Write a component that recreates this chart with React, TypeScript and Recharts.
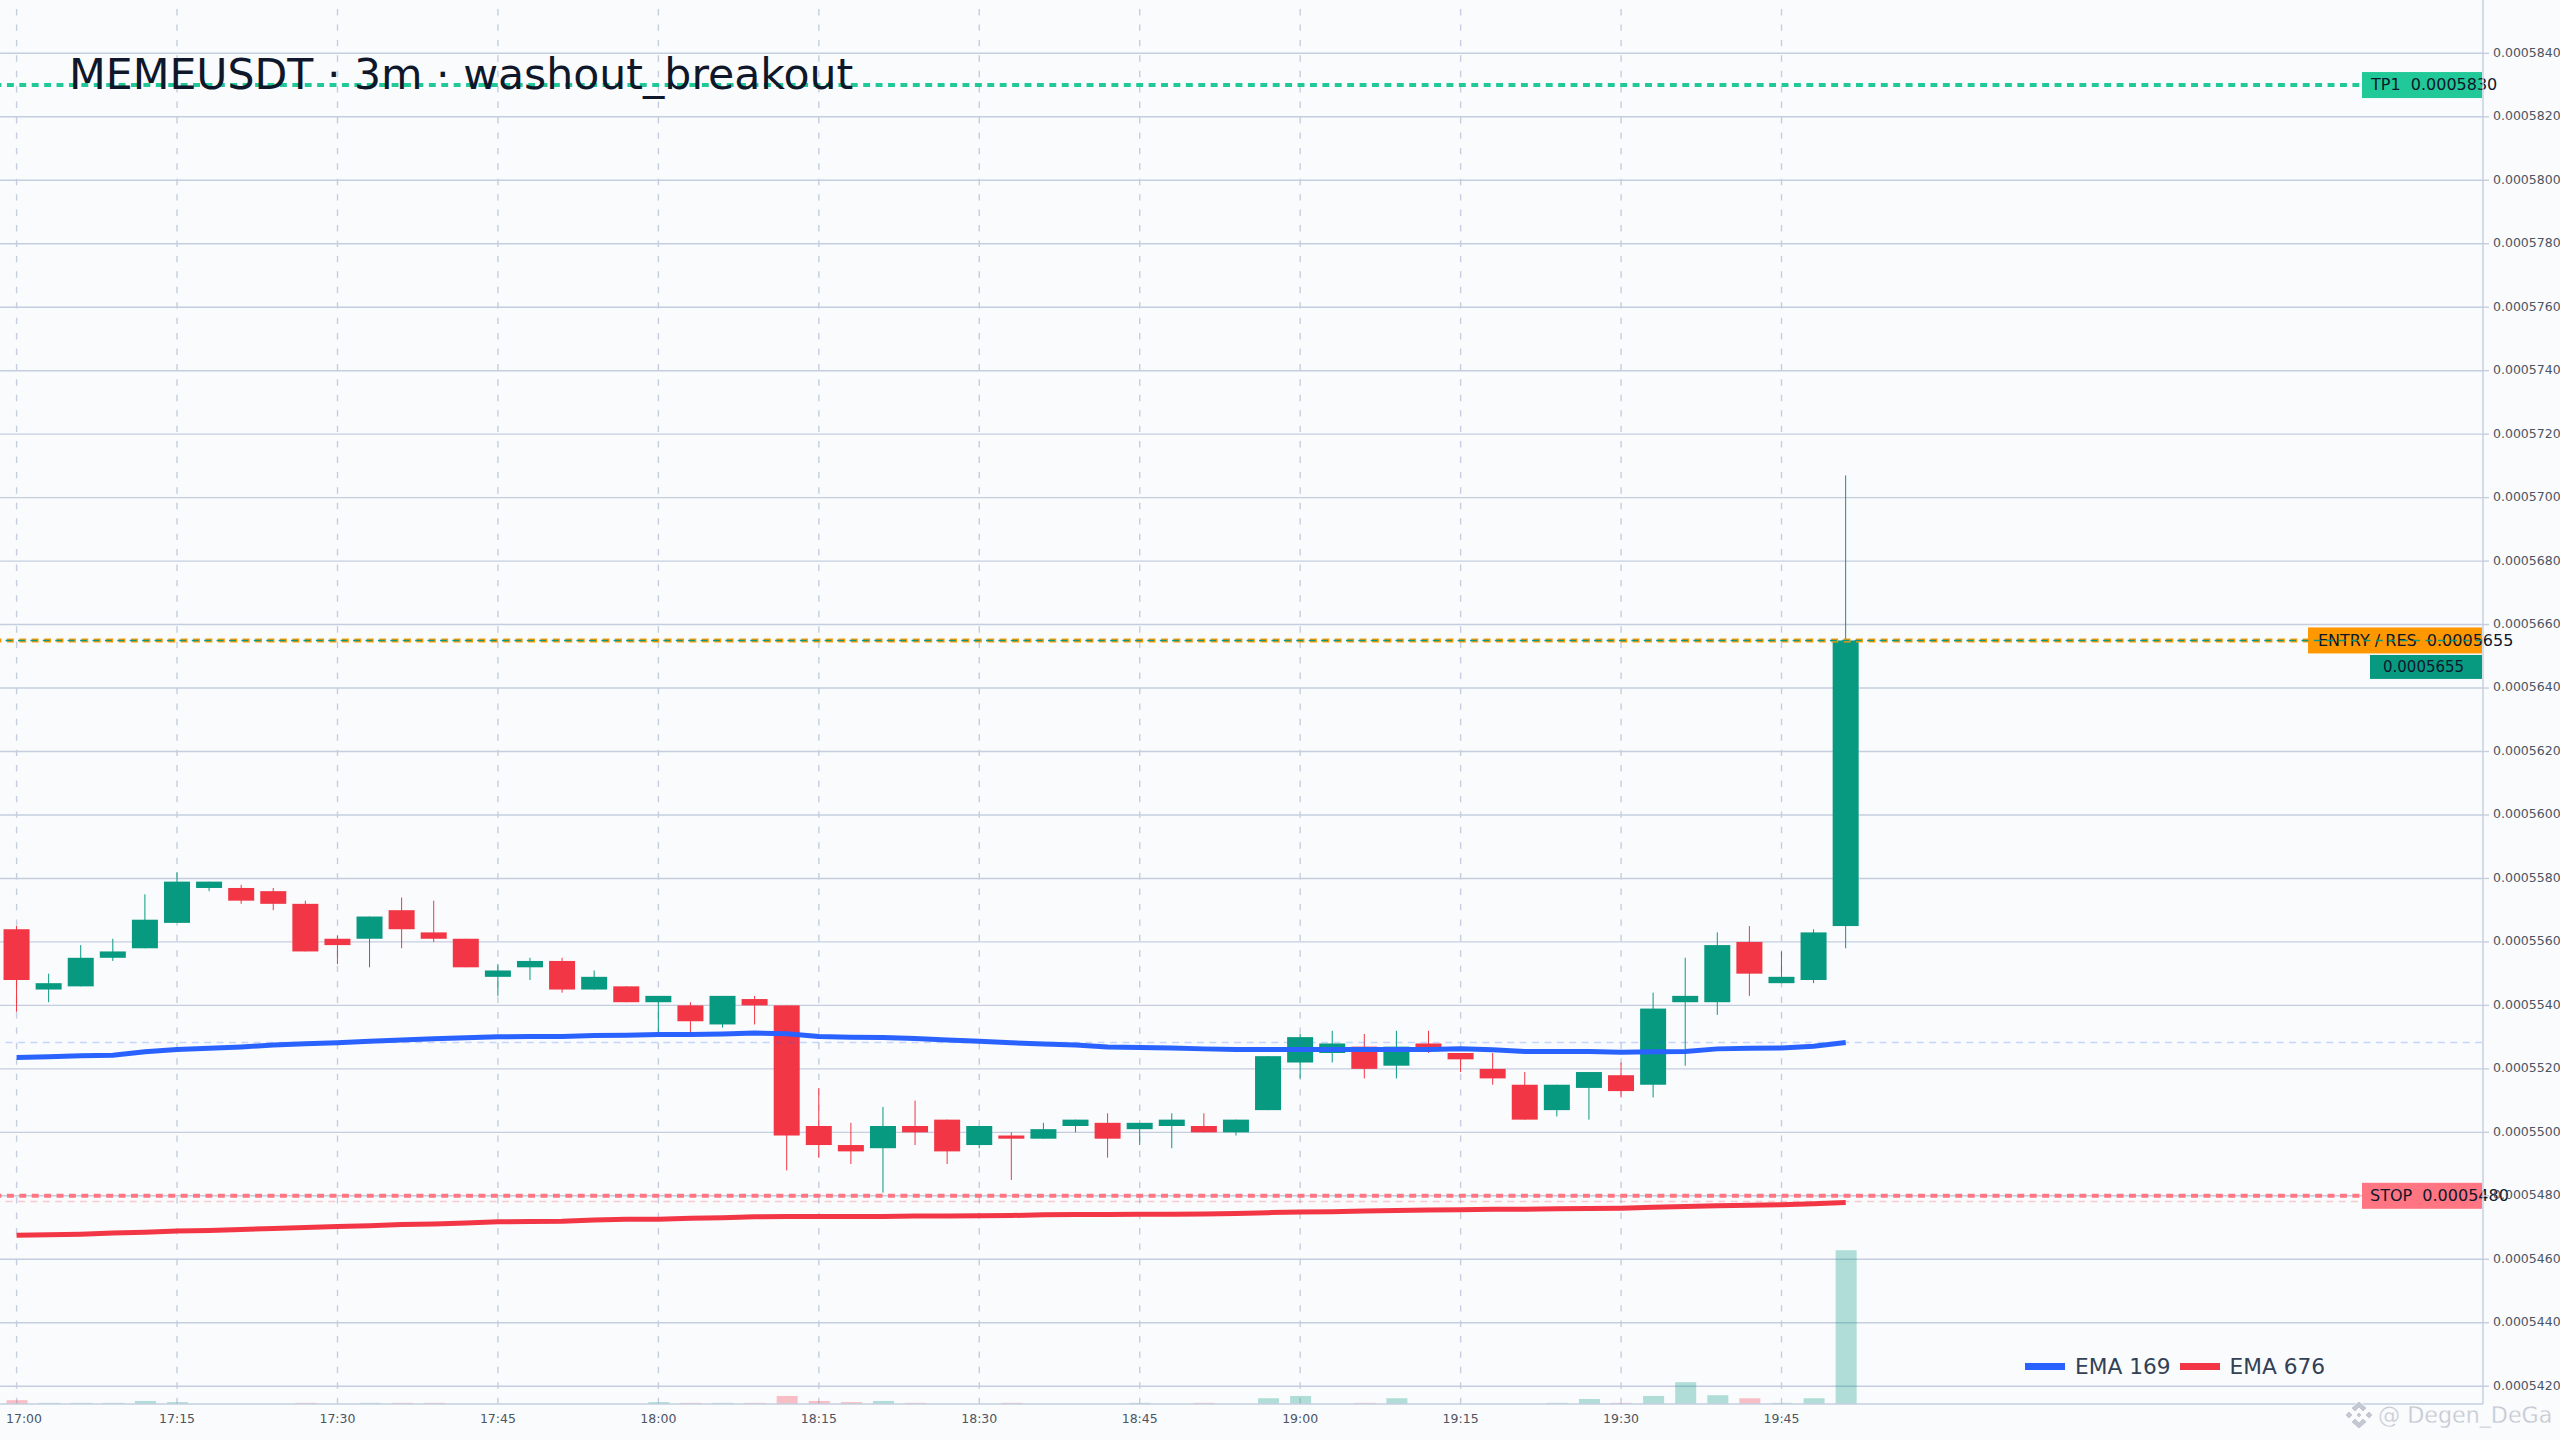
import { Bar, CartesianGrid, ComposedChart, Legend, Line, ReferenceLine, XAxis, YAxis } from "recharts"

const FONT = "'DejaVu Sans', sans-serif"
const UP = "#089981"
const DOWN = "#f23645"
const GRID = "#c4cedf"
const LEVEL_DASH = "6.9 5.51"

// prices are in units of 0.0000001
const opens = [5564, 5545, 5546, 5555, 5558, 5566, 5577, 5577, 5576, 5572, 5561, 5561, 5570, 5563, 5561, 5549, 5552, 5554, 5545, 5546, 5541, 5540, 5534, 5542, 5540, 5502, 5496, 5495, 5502, 5504, 5496, 5499, 5498, 5502, 5503, 5501, 5502, 5502, 5500, 5507, 5522, 5525, 5527, 5521, 5528, 5525, 5520, 5515, 5507, 5514, 5518, 5515, 5541, 5541, 5560, 5547, 5548, 5565]
const highs = [5565, 5550, 5559, 5561, 5575, 5582, 5579, 5578, 5577, 5573, 5562, 5568, 5574, 5573, 5561, 5553, 5555, 5555, 5551, 5546, 5543, 5541, 5543, 5543, 5540, 5514, 5503, 5508, 5510, 5504, 5502, 5500, 5503, 5504, 5506, 5503, 5506, 5506, 5504, 5524, 5531, 5532, 5531, 5532, 5532, 5525, 5525, 5519, 5515, 5519, 5522, 5544, 5555, 5563, 5565, 5557, 5564, 5707]
const lows = [5538, 5541, 5546, 5554, 5558, 5566, 5576, 5572, 5570, 5557, 5553, 5552, 5558, 5560, 5552, 5543, 5548, 5544, 5545, 5541, 5531, 5531, 5533, 5534, 5488, 5492, 5490, 5481, 5496, 5490, 5495, 5485, 5498, 5500, 5492, 5496, 5495, 5500, 5499, 5507, 5517, 5522, 5517, 5517, 5525, 5519, 5515, 5504, 5505, 5504, 5511, 5511, 5521, 5537, 5543, 5547, 5547, 5558]
const closes = [5548, 5547, 5555, 5557, 5567, 5579, 5579, 5573, 5572, 5557, 5559, 5568, 5564, 5561, 5552, 5551, 5554, 5545, 5549, 5541, 5543, 5535, 5543, 5540, 5499, 5496, 5494, 5502, 5500, 5494, 5502, 5498, 5501, 5504, 5498, 5503, 5504, 5500, 5504, 5524, 5530, 5528, 5520, 5527, 5526, 5523, 5517, 5504, 5515, 5519, 5513, 5539, 5543, 5559, 5550, 5549, 5563, 5655]
const volumes = [10, 3, 3, 3, 8, 5, 0, 0, 0, 3, 0, 3, 3, 3, 0, 0, 0, 0, 0, 0, 5, 3, 3, 3, 21, 8, 5, 8, 3, 0, 0, 3, 0, 0, 0, 3, 0, 3, 0, 15, 21, 0, 3, 15, 0, 0, 0, 0, 3, 13, 3, 21, 57, 23, 15, 3, 15, 402]
const ema169 = [5523.6, 5523.8, 5524.1, 5524.3, 5525.4, 5526.1, 5526.5, 5526.9, 5527.5, 5527.9, 5528.2, 5528.7, 5529.1, 5529.5, 5529.8, 5530.1, 5530.2, 5530.2, 5530.5, 5530.6, 5530.8, 5530.8, 5531, 5531.3, 5531.1, 5530.2, 5530, 5529.9, 5529.6, 5529.1, 5528.7, 5528.2, 5527.8, 5527.5, 5526.9, 5526.7, 5526.6, 5526.3, 5526.1, 5526.1, 5526.1, 5526.1, 5526.1, 5526.1, 5526.1, 5526.3, 5526, 5525.5, 5525.5, 5525.5, 5525.2, 5525.4, 5525.5, 5526.3, 5526.5, 5526.6, 5527.1, 5528.3]
const ema676 = [5467.6, 5467.7, 5467.9, 5468.3, 5468.5, 5468.9, 5469.1, 5469.4, 5469.7, 5470, 5470.3, 5470.6, 5470.95, 5471.1, 5471.4, 5471.8, 5471.9, 5472, 5472.4, 5472.6, 5472.6, 5472.9, 5473.1, 5473.4, 5473.5, 5473.5, 5473.5, 5473.5, 5473.6, 5473.6, 5473.7, 5473.8, 5474, 5474.1, 5474.1, 5474.2, 5474.2, 5474.3, 5474.4, 5474.7, 5474.9, 5475, 5475.2, 5475.4, 5475.5, 5475.6, 5475.8, 5475.8, 5475.9, 5476, 5476.1, 5476.4, 5476.6, 5476.9, 5477, 5477.2, 5477.5, 5477.9]

const timeTicks = [0, 5, 10, 15, 20, 25, 30, 35, 40, 45, 50, 55]
const timeLabels = ["17:00", "17:15", "17:30", "17:45", "18:00", "18:15", "18:30", "18:45", "19:00", "19:15", "19:30", "19:45"]
const priceTicks = [5420, 5440, 5460, 5480, 5500, 5520, 5540, 5560, 5580, 5600, 5620, 5640, 5660, 5680, 5700, 5720, 5740, 5760, 5780, 5800, 5820, 5840]

const TP1 = 5830
const ENTRY = 5655
const STOP = 5480
const LAST = 5655

const rows = opens.map((open, i) => ({
  i,
  open,
  high: highs[i],
  low: lows[i],
  close: closes[i],
  volume: volumes[i],
  ema169: ema169[i],
  ema676: ema676[i],
}))

const fmtPrice = (v: number) => (v / 1e7).toFixed(7)

function Candle(props: any) {
  const { x, y, width, height, payload } = props
  const perUnit = height / (payload.high - payload.low)
  const top = y + (payload.high - Math.max(payload.open, payload.close)) * perUnit
  const bodyH = Math.abs(payload.open - payload.close) * perUnit
  const color = payload.close >= payload.open ? UP : DOWN
  const cx = x + width / 2
  return (
    <g>
      <line x1={cx} x2={cx} y1={y} y2={y + height} stroke={color} strokeWidth={1} />
      <rect x={x} y={top} width={width} height={bodyH} fill={color} />
    </g>
  )
}

function VolumeBar(props: any) {
  const { x, y, width, height, payload } = props
  if (!height) return null
  const color = payload.close >= payload.open ? "rgba(8,153,129,0.3)" : "rgba(242,54,69,0.3)"
  return <rect x={x} y={y} width={width} height={height} fill={color} />
}

// price tag sitting at the right edge of a reference line
function PriceTag(props: any) {
  const { viewBox, text, fill, boxW, boxH = 26, pad, dy = 0, fontSize = 16 } = props
  const right = viewBox.x + viewBox.width - 1
  const cy = viewBox.y + dy
  return (
    <g>
      <rect x={right - boxW} y={cy - boxH / 2} width={boxW} height={boxH} fill={fill} />
      <text x={right - boxW + pad} y={cy} dy="0.32em" fontSize={fontSize} fontFamily={FONT} fill="#0f172a">
        {text}
      </text>
    </g>
  )
}

function TimeTick(props: any) {
  const { x, y, payload } = props
  const label = timeLabels[timeTicks.indexOf(payload.value)]
  return (
    <text x={Math.max(x, 24)} y={y} dy="0.32em" textAnchor="middle" fontSize={12.5} fontFamily={FONT} fill="#4b5563">
      {label}
    </text>
  )
}

function EmaLegend({ payload }: any) {
  const items = (payload ?? []).filter((p: any) => String(p.value).startsWith("EMA"))
  return (
    <div style={{ display: "flex", alignItems: "center", fontFamily: FONT, fontSize: 21.7, color: "#334155", whiteSpace: "nowrap" }}>
      {items.map((p: any) => (
        <span key={p.value} style={{ display: "flex", alignItems: "center", marginRight: 9 }}>
          <span style={{ width: 40, height: 7, background: p.color, marginRight: 10 }} />
          {p.value}
        </span>
      ))}
    </div>
  )
}

export default function App() {
  return (
    <div style={{ position: "absolute", left: 0, top: 0, width: 2560, height: 1440, background: "#fafbfd", overflow: "hidden" }}>
      <ComposedChart width={2560} height={1440} data={rows} margin={{ top: 0, right: 0, bottom: 0, left: 0 }}>
        <CartesianGrid yAxisId="price" vertical={false} stroke={GRID} strokeWidth={1.4} horizontalValues={priceTicks} />
        <CartesianGrid
          yAxisId="price"
          horizontal={false}
          stroke={GRID}
          strokeWidth={1.4}
          strokeDasharray="6.4 9.03"
          strokeDashoffset={6.4}
          verticalValues={timeTicks}
        />
        <XAxis
          dataKey="i"
          type="number"
          domain={[-0.517, 76.86]}
          allowDataOverflow
          ticks={timeTicks}
          interval={0}
          height={36}
          tick={<TimeTick />}
          tickLine={false}
          tickSize={0}
          tickMargin={15}
          axisLine={{ stroke: GRID, strokeWidth: 1.4 }}
        />
        <XAxis xAxisId="vol" dataKey="i" type="number" domain={[-0.517, 76.86]} allowDataOverflow hide />
        <YAxis
          yAxisId="price"
          orientation="right"
          type="number"
          domain={[5414.4, 5856.8]}
          allowDataOverflow
          ticks={priceTicks}
          interval={0}
          width={77}
          tickFormatter={fmtPrice}
          tick={{ fontSize: 12.5, fill: "#4b5563", fontFamily: FONT, dy: -1 }}
          tickSize={6}
          tickMargin={4}
          tickLine={{ stroke: GRID, strokeWidth: 1.4 }}
          axisLine={{ stroke: GRID, strokeWidth: 1.4 }}
        />
        <YAxis yAxisId="vol" orientation="left" type="number" domain={[0, 3670]} hide />

        <Bar xAxisId="vol" yAxisId="vol" dataKey="volume" name="volume" barSize={21} shape={<VolumeBar />} legendType="none" isAnimationActive={false} />
        <Bar yAxisId="price" dataKey={(d: any) => [d.low, d.high]} name="candles" barSize={26} shape={<Candle />} legendType="none" isAnimationActive={false} />

        <ReferenceLine yAxisId="price" y={5528.3} stroke="#2962ff" strokeOpacity={0.25} strokeWidth={1.4} strokeDasharray={LEVEL_DASH} strokeDashoffset={-0.89} />
        <ReferenceLine yAxisId="price" y={5478.2} stroke={DOWN} strokeOpacity={0.25} strokeWidth={1.4} strokeDasharray={LEVEL_DASH} strokeDashoffset={-0.89} />
        <ReferenceLine
          yAxisId="price"
          y={TP1}
          stroke="#20c997"
          strokeWidth={4}
          strokeDasharray={LEVEL_DASH}
          strokeDashoffset={0.41}
          label={<PriceTag text={`TP1\u00a0\u00a0${fmtPrice(TP1)}`} fill="#20c997" boxW={120} pad={9} />}
        />
        <ReferenceLine
          yAxisId="price"
          y={ENTRY}
          stroke="#ff9800"
          strokeWidth={4}
          strokeDasharray={LEVEL_DASH}
          strokeDashoffset={0.41}
          label={<PriceTag text={`ENTRY / RES\u00a0\u00a0${fmtPrice(ENTRY)}`} fill="#ff9800" boxW={174} pad={10} />}
        />
        <ReferenceLine
          yAxisId="price"
          y={STOP}
          stroke="#ff7582"
          strokeWidth={4}
          strokeDasharray={LEVEL_DASH}
          strokeDashoffset={0.41}
          label={<PriceTag text={`STOP\u00a0\u00a0${fmtPrice(STOP)}`} fill="#ff7582" boxW={120} pad={8} />}
        />
        <ReferenceLine
          yAxisId="price"
          y={LAST}
          stroke={UP}
          strokeWidth={1.4}
          strokeDasharray={LEVEL_DASH}
          strokeDashoffset={-0.89}
          label={<PriceTag text={fmtPrice(LAST)} fill={UP} boxW={112} boxH={24} pad={13} dy={26.5} fontSize={15} />}
        />

        <Line yAxisId="price" dataKey="ema169" name="EMA 169" type="linear" stroke="#2962ff" strokeWidth={5} dot={false} activeDot={false} isAnimationActive={false} />
        <Line yAxisId="price" dataKey="ema676" name="EMA 676" type="linear" stroke={DOWN} strokeWidth={5} dot={false} activeDot={false} isAnimationActive={false} />

        <Legend
          layout="horizontal"
          align="center"
          verticalAlign="middle"
          content={<EmaLegend />}
          wrapperStyle={{ left: 2025, top: 1354, width: 320, height: 26 }}
        />
      </ComposedChart>

      <div style={{ position: "absolute", left: 69, top: 49, fontFamily: FONT, fontSize: 42.6, lineHeight: "50px", color: "#0f172a", whiteSpace: "nowrap" }}>
        MEMEUSDT · 3m · washout_breakout
      </div>

      <svg style={{ position: "absolute", left: 2340, top: 1398 }} width={220} height={42}>
        <g fill="#c3c8d2" stroke="#ffffff" strokeWidth={0.8}>
          <polygon points="19,3 27,10 23,14 19,10 15,14 11,10" />
          <polygon points="19,31 27,24 23,20 19,24 15,20 11,24" />
          <polygon points="5,17 9,13 13,17 9,21" />
          <polygon points="33,17 29,13 25,17 29,21" />
          <polygon points="19,14 22,17 19,20 16,17" />
        </g>
        <text x={38} y={25} fontSize={22.2} fontFamily={FONT} fill="#c3c8d2" stroke="#ffffff" strokeWidth={0.3}>
          @ Degen_DeGa
        </text>
      </svg>
    </div>
  )
}
